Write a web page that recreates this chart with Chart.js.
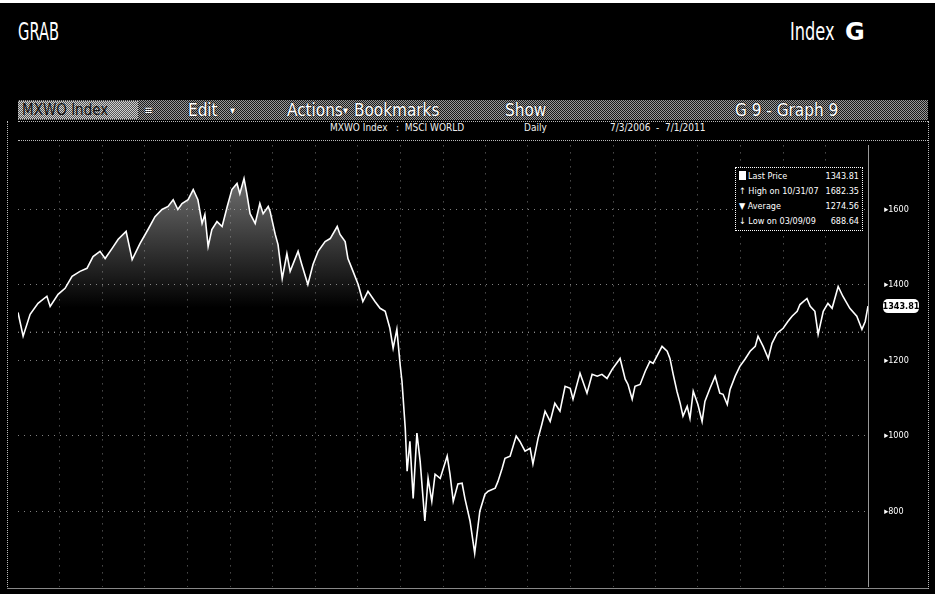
<!DOCTYPE html>
<html>
<head>
    <title>MXWO Index - Graph 9</title>
    <script src="https://cdn.jsdelivr.net/npm/chart.js"></script>
    <style>
        body { margin: 0; background: #000; width: 935px; height: 594px; overflow: hidden;
               font-family: "Liberation Sans Narrow", "DejaVu Sans Condensed", "Liberation Sans", sans-serif; color: #fff; }
        .topedge { position: absolute; left: 0; top: 0; width: 935px; height: 3px; background: #fff; }
        .grab { position: absolute; left: 18px; top: 18px; font-size: 24px; transform: scaleX(0.68); transform-origin: 0 0; }
        .idx { position: absolute; left: 790px; top: 18px; font-size: 24px; }
        .idx em { font-style: normal; display: inline-block; transform: scaleX(0.75); transform-origin: 0 0; }
        .idx b { position: absolute; left: 55px; top: 0; font-family: "DejaVu Sans", sans-serif; font-size: 24px; }
        /* dithered grey toolbar, like the scan */
        .toolbar { position: absolute; left: 18px; top: 100px; width: 910px; height: 20px;
                   background: repeating-conic-gradient(#9a9a9a 0 25%, #1a1a1a 0 50%) 0 0/2px 2px; }
        .toolbar span { position: absolute; top: 0px; font-size: 17px; color: #fff; text-shadow: 0 0 2px #000; }
        .tkr { position: absolute; left: 0; top: 1px; width: 120px; height: 18px;
               background: repeating-conic-gradient(#d0d0d0 0 25%, #555 0 50%) 0 0/2px 2px; }
        .tkr i { font-style: normal; font-size: 15px; color: #111; position: absolute; left: 4px; top: 0; }
        .dots { position: absolute; height: 0; border-top: 1px dotted #bbb; }
        .vdots { position: absolute; width: 0; border-left: 1px dotted #bbb; }
        .title { position: absolute; top: 122px; font-size: 10px; color: #eee; }
        .legend { position: absolute; left: 735px; top: 167px; width: 128px; height: 64px;
                  border: 1px dotted #fff; background: #000; font-size: 9px; line-height: 15px; padding: 1px 3px; box-sizing: border-box; }
        .legend div { display: flex; justify-content: space-between; white-space: nowrap; }
        .sq { display: inline-block; width: 7px; height: 9px; background: #fff; vertical-align: -1px; margin-right: 2px; }
        #wrap { position: absolute; left: 18px; top: 136px; width: 910px; height: 460px; }
    </style>
</head>
<body>
    <div class="topedge"></div>
    <div class="grab">GRAB</div>
    <div class="idx"><em>Index</em><b>G</b></div>

    <div class="toolbar">
        <div class="tkr"><i>MXWO Index</i></div>
        <span style="left:126px;font-size:12px;top:3px">≡</span>
        <span style="left:170px">Edit</span>
        <span style="left:212px;font-size:11px;top:4px">▾</span>
        <span style="left:269px">Actions</span>
        <span style="left:325px;font-size:11px;top:4px">▾</span>
        <span style="left:336px">Bookmarks</span>
        <span style="left:487px">Show</span>
        <span style="left:717px">G 9 - Graph 9</span>
    </div>
    <div class="dots" style="left:18px;top:121px;width:910px"></div>
    <div class="title" style="left:330px">MXWO Index&nbsp;&nbsp;&nbsp;:&nbsp;&nbsp;MSCI WORLD</div>
    <div class="title" style="left:524px">Daily</div>
    <div class="title" style="left:610px">7/3/2006&nbsp;&nbsp;-&nbsp;&nbsp;7/1/2011</div>
    <div class="dots" style="left:18px;top:140px;width:910px"></div>
    <div class="vdots" style="left:7px;top:121px;height:468px"></div>
    <div class="vdots" style="left:928px;top:121px;height:468px"></div>
    <div class="dots" style="left:7px;top:588px;width:921px;border-top-style:solid;border-color:#888"></div>

    <div id="wrap"><canvas id="c"></canvas></div>

    <div class="legend">
        <div><span><span class="sq"></span>Last Price</span><span>1343.81</span></div>
        <div><span>↑ High on 10/31/07</span><span>1682.35</span></div>
        <div><span>▼ Average</span><span>1274.56</span></div>
        <div><span>↓ Low on 03/09/09</span><span>688.64</span></div>
    </div>

    <script type="text/javascript">
        // MXWO Index (not every trading day, the turning points)
        var dates = [
            '2006-07-03','2006-07-14','2006-07-29','2006-08-15','2006-09-03','2006-09-10','2006-09-27','2006-10-12',
            '2006-10-27','2006-11-13','2006-11-28','2006-12-11','2006-12-26','2007-01-06','2007-01-21','2007-02-03',
            '2007-02-20','2007-03-05','2007-03-22','2007-04-08','2007-04-23','2007-05-08','2007-05-21','2007-06-01',
            '2007-06-11','2007-06-20','2007-07-03','2007-07-14','2007-07-24','2007-08-02','2007-08-08','2007-08-15',
            '2007-08-23','2007-09-03','2007-09-14','2007-09-25','2007-10-05','2007-10-16','2007-10-22','2007-10-31',
            '2007-11-06','2007-11-13','2007-11-24','2007-12-04','2007-12-11','2007-12-22','2007-12-26','2008-01-06',
            '2008-01-12','2008-01-21','2008-01-31','2008-02-07','2008-02-24','2008-03-03','2008-03-16','2008-03-27',
            '2008-04-07','2008-04-22','2008-05-03','2008-05-18','2008-05-24','2008-06-04','2008-06-10','2008-06-21',
            '2008-07-02','2008-07-12','2008-07-23','2008-08-07','2008-08-18','2008-08-29','2008-09-08','2008-09-15',
            '2008-09-23','2008-09-30','2008-10-04','2008-10-11','2008-10-15','2008-10-21','2008-10-28','2008-11-05',
            '2008-11-12','2008-11-22','2008-11-29','2008-12-07','2008-12-14','2008-12-25','2009-01-09','2009-01-15',
            '2009-01-22','2009-02-01','2009-02-10','2009-02-16','2009-02-27','2009-03-09','2009-03-20','2009-03-31',
            '2009-04-07','2009-04-22','2009-04-28','2009-05-07','2009-05-13','2009-05-24','2009-06-06','2009-06-14',
            '2009-06-25','2009-07-06','2009-07-12','2009-07-23','2009-07-31','2009-08-07','2009-08-18','2009-08-28',
            '2009-09-08','2009-09-19','2009-09-30','2009-10-06','2009-10-21','2009-11-05','2009-11-16','2009-11-27',
            '2009-12-07','2009-12-18','2009-12-29','2010-01-15','2010-01-26','2010-02-01','2010-02-10','2010-02-16',
            '2010-02-27','2010-03-10','2010-03-20','2010-03-27','2010-04-15','2010-04-26','2010-05-02','2010-05-09',
            '2010-05-17','2010-05-24','2010-05-30','2010-06-08','2010-06-14','2010-06-21','2010-07-01','2010-07-10',
            '2010-07-16','2010-07-27','2010-08-07','2010-08-17','2010-08-24','2010-09-02','2010-09-08','2010-09-19',
            '2010-09-29','2010-10-10','2010-10-21','2010-11-01','2010-11-07','2010-11-18','2010-11-29','2010-12-07',
            '2010-12-18','2010-12-31','2011-01-10','2011-01-19','2011-01-30','2011-02-05','2011-02-20','2011-02-27',
            '2011-03-09','2011-03-16','2011-03-27','2011-04-06','2011-04-15','2011-04-28','2011-05-08','2011-05-23',
            '2011-06-07','2011-06-18','2011-06-25','2011-07-01'
        ];
        var prices = [
            1327,1264,1322,1351,1370,1343,1375,1391,
            1423,1436,1444,1475,1489,1470,1497,1521,
            1542,1467,1510,1547,1581,1600,1608,1626,
            1600,1616,1626,1653,1626,1563,1587,1502,
            1547,1568,1555,1608,1653,1669,1642,1682.35,
            1642,1589,1563,1616,1589,1608,1595,1534,
            1507,1417,1483,1436,1489,1454,1401,1454,
            1489,1515,1523,1555,1534,1515,1470,1436,
            1401,1356,1383,1356,1338,1330,1285,1232,
            1282,1189,1144,1020,906,985,834,1007,
            932,774,887,826,898,887,946,898,
            826,872,874,834,774,688.64,800,845,
            853,861,879,914,940,946,999,985,
            959,967,925,993,1030,1065,1038,1086,
            1065,1131,1126,1097,1166,1113,1163,1158,
            1163,1152,1176,1205,1150,1136,1097,1131,
            1136,1171,1197,1192,1237,1224,1205,1163,
            1118,1086,1052,1078,1046,1118,1083,1038,
            1091,1126,1158,1113,1110,1083,1123,1158,
            1184,1203,1224,1237,1264,1237,1205,1245,
            1272,1285,1303,1317,1330,1348,1364,1343,
            1330,1269,1330,1351,1338,1396,1370,1338,
            1317,1282,1303,1343.81
        ];
        var average = 1274.56;
        var yTicks = [800, 1000, 1200, 1400, 1600];
        var quarterTicks = [
            '2006-10-01','2007-01-01','2007-04-01','2007-07-01','2007-10-01','2008-01-01','2008-04-01',
            '2008-07-01','2008-10-01','2009-01-01','2009-04-01','2009-07-01','2009-10-01','2010-01-01',
            '2010-04-01','2010-07-01','2010-10-01','2011-01-01','2011-04-01'
        ];

        var startX = Date.parse(dates[0]);
        var endX = Date.parse(dates[dates.length - 1]);
        var points = dates.map(function (d, i) { return { x: Date.parse(d), y: prices[i] }; });

        // white label for the last price on the right axis
        var lastLabel = {
            id: 'lastLabel',
            afterDraw: function (chart) {
                var ctx = chart.ctx, y = chart.scales.y.getPixelForValue(prices[prices.length - 1]);
                var x = chart.chartArea.right + 15, w = 36, h = 14;
                ctx.save();
                ctx.fillStyle = '#fff';
                ctx.beginPath();
                ctx.roundRect(x, y - h / 2, w, h, 5);
                ctx.fill();
                ctx.fillStyle = '#000';
                ctx.font = 'bold 9px "DejaVu Sans Condensed", sans-serif';
                ctx.textAlign = 'center';
                ctx.textBaseline = 'middle';
                ctx.fillText(prices[prices.length - 1].toFixed(2), x + w / 2, y + 1);
                ctx.restore();
            }
        };

        new Chart(document.getElementById('c').getContext('2d'), {
            type: 'line',
            data: {
                datasets: [{
                    label: 'Last Price',
                    data: points,
                    borderColor: '#fff',
                    borderWidth: 1.6,
                    pointRadius: 0,
                    tension: 0,
                    fill: 'start',
                    backgroundColor: function (context) {
                        var chart = context.chart;
                        if (!chart.chartArea) return 'transparent';
                        var ys = chart.scales.y;
                        var g = chart.ctx.createLinearGradient(0, ys.getPixelForValue(1690), 0, ys.getPixelForValue(1340));
                        g.addColorStop(0, 'rgba(190,190,190,0.6)');
                        g.addColorStop(1, 'rgba(190,190,190,0)');
                        return g;
                    }
                }, {
                    label: 'Average',
                    data: [{ x: startX, y: average }, { x: endX, y: average }],
                    borderColor: 'rgba(255,255,255,0.75)',
                    borderWidth: 1,
                    borderDash: [1, 5],
                    pointRadius: 0,
                    fill: false
                }]
            },
            options: {
                animation: false,
                responsive: true,
                maintainAspectRatio: false,
                layout: { padding: 0 },
                plugins: { legend: { display: false }, tooltip: { enabled: false } },
                scales: {
                    x: {
                        type: 'linear',
                        min: startX,
                        max: endX,
                        afterBuildTicks: function (scale) {
                            scale.ticks = quarterTicks.map(function (d) { return { value: Date.parse(d) }; });
                        },
                        ticks: { display: false },
                        grid: { color: 'rgba(255,255,255,0.45)', lineWidth: 1, drawTicks: false },
                        border: { display: false, dash: [1, 6] }
                    },
                    y: {
                        position: 'right',
                        min: 600,
                        max: 1770,
                        afterBuildTicks: function (scale) {
                            scale.ticks = yTicks.map(function (v) { return { value: v }; });
                        },
                        afterFit: function (scale) { scale.width = 60; },
                        ticks: {
                            color: '#fff',
                            padding: 4,
                            font: { size: 9, family: '"DejaVu Sans Condensed", sans-serif' },
                            callback: function (v) { return '\u2002\u2002\u2002▸' + v; }
                        },
                        grid: { color: 'rgba(255,255,255,0.5)', lineWidth: 1, drawTicks: false },
                        border: { display: true, color: 'rgba(255,255,255,0.6)', dash: [1, 5] }
                    }
                }
            },
            plugins: [lastLabel]
        });
    </script>
</body>
</html>
